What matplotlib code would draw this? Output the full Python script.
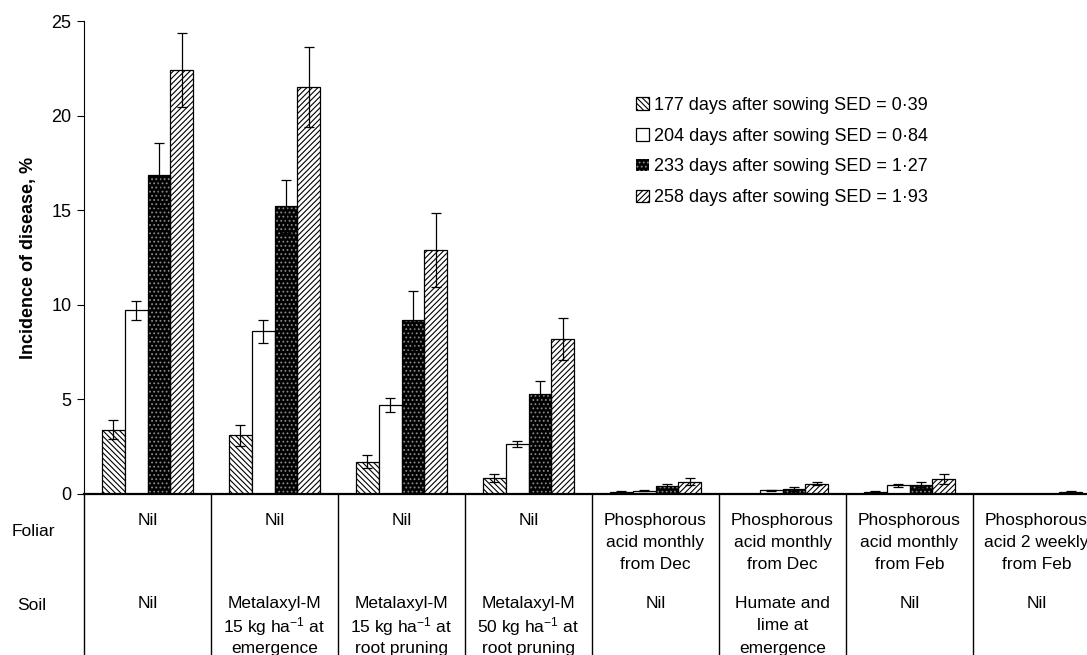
import matplotlib
matplotlib.use("Agg")
import matplotlib.pyplot as plt
import numpy as np

plt.rcParams['font.family'] = ['Liberation Sans', 'DejaVu Sans']
plt.rcParams['mathtext.fontset'] = 'custom'
plt.rcParams['mathtext.rm'] = 'Liberation Sans'
plt.rcParams['mathtext.it'] = 'Liberation Sans:italic'
plt.rcParams['hatch.linewidth'] = 0.8

# ---- data ----
foliar_labels = ["Nil", "Nil", "Nil", "Nil",
                 "Phosphorous\nacid monthly\nfrom Dec",
                 "Phosphorous\nacid monthly\nfrom Dec",
                 "Phosphorous\nacid monthly\nfrom Feb",
                 "Phosphorous\nacid 2 weekly\nfrom Feb"]
soil_labels = ["Nil",
               "Metalaxyl-M\n15 kg ha$^{-1}$ at\nemergence",
               "Metalaxyl-M\n15 kg ha$^{-1}$ at\nroot pruning",
               "Metalaxyl-M\n50 kg ha$^{-1}$ at\nroot pruning",
               "Nil",
               "Humate and\nlime at\nemergence",
               "Nil",
               "Nil"]
series_labels = ["177 days after sowing SED = 0\u00b739",
                 "204 days after sowing SED = 0\u00b784",
                 "233 days after sowing SED = 1\u00b727",
                 "258 days after sowing SED = 1\u00b793"]

d177 = [3.4, 3.1, 1.7, 0.85, 0.1, 0.0, 0.13, 0.0]
d204 = [9.7, 8.6, 4.7, 2.65, 0.18, 0.2, 0.45, 0.0]
d233 = [16.85, 15.2, 9.2, 5.3, 0.4, 0.26, 0.5, 0.0]
d258 = [22.4, 21.5, 12.9, 8.2, 0.65, 0.55, 0.8, 0.12]

e177 = [0.5, 0.55, 0.35, 0.2, 0.05, 0.0, 0.03, 0.0]
e204 = [0.5, 0.6, 0.35, 0.15, 0.04, 0.02, 0.07, 0.0]
e233 = [1.7, 1.4, 1.55, 0.65, 0.15, 0.1, 0.15, 0.0]
e258 = [1.95, 2.1, 1.95, 1.1, 0.2, 0.1, 0.25, 0.05]

values = [d177, d204, d233, d258]
errors = [e177, e204, e233, e258]

# ---- figure ----
fig = plt.figure(figsize=(10.87, 6.55), dpi=100)
ax = fig.add_axes([84/1087, 161/655, 1016/1087, 473/655])

n_groups = len(foliar_labels)
groups = np.arange(n_groups)
bw = 0.18
styles = [
    dict(facecolor='white', edgecolor='black', hatch='\\' * 6, linewidth=0.9),
    dict(facecolor='white', edgecolor='black', hatch=None, linewidth=0.9),
    dict(facecolor='black', edgecolor='#8a8a8a', hatch='....', linewidth=0),
    dict(facecolor='white', edgecolor='black', hatch='/' * 6, linewidth=0.9),
]

handles = []
for k in range(4):
    x = groups + 0.5 + (k - 1.5) * bw
    v = np.array(values[k])
    e = np.array(errors[k])
    bc = ax.bar(x, v, width=bw, label=series_labels[k], zorder=2, **styles[k])
    if k == 2:
        ax.bar(x, v, width=bw, facecolor='none', edgecolor='black',
               linewidth=0.9, zorder=2.5)
    handles.append(bc)
    m = v > 0
    ax.errorbar(x[m], v[m], yerr=e[m], fmt='none', ecolor='black',
                elinewidth=0.9, capsize=3.5, capthick=0.9, zorder=3)

ax.set_xlim(0, n_groups)
ax.set_ylim(0, 25)
ax.set_yticks([0, 5, 10, 15, 20, 25])
ax.set_xticks([])
ax.tick_params(axis='y', direction='out', length=5, width=0.8,
               labelsize=13, pad=4)
for s in ['top', 'right']:
    ax.spines[s].set_visible(False)
ax.spines['bottom'].set_linewidth(1.6)
ax.spines['left'].set_linewidth(0.8)

ax.set_ylabel("Incidence of disease, %", fontsize=13, fontweight='bold',
              labelpad=10)

# table below axis
xt = ax.get_xaxis_transform()
ax.vlines(np.arange(n_groups), -0.4, 0, transform=xt, colors='black',
          linewidth=1.0, clip_on=False)


def ls(label):
    return 1.25 if '$' in label else 1.6


for i in range(n_groups):
    ax.text(i + 0.5, -0.040, foliar_labels[i], transform=xt, ha='center',
            va='top', fontsize=12.5, linespacing=ls(foliar_labels[i]),
            multialignment='center')
    ax.text(i + 0.5, -0.216, soil_labels[i], transform=xt, ha='center',
            va='top', fontsize=12.5, linespacing=ls(soil_labels[i]),
            multialignment='center')

fig.text(33/1087, 1 - 532/655, "Foliar", ha='center', va='center', fontsize=12.5)
fig.text(32/1087, 1 - 606/655, "Soil", ha='center', va='center', fontsize=12.5)

fig.legend(handles=handles, labels=series_labels, loc='upper left',
           bbox_to_anchor=(636/1087, 1 - 97/655), frameon=False,
           fontsize=13, handlelength=0.7, handleheight=0.7,
           handletextpad=0.3, labelspacing=0.76, borderpad=0, borderaxespad=0)

fig.savefig("out.png", dpi=100)
